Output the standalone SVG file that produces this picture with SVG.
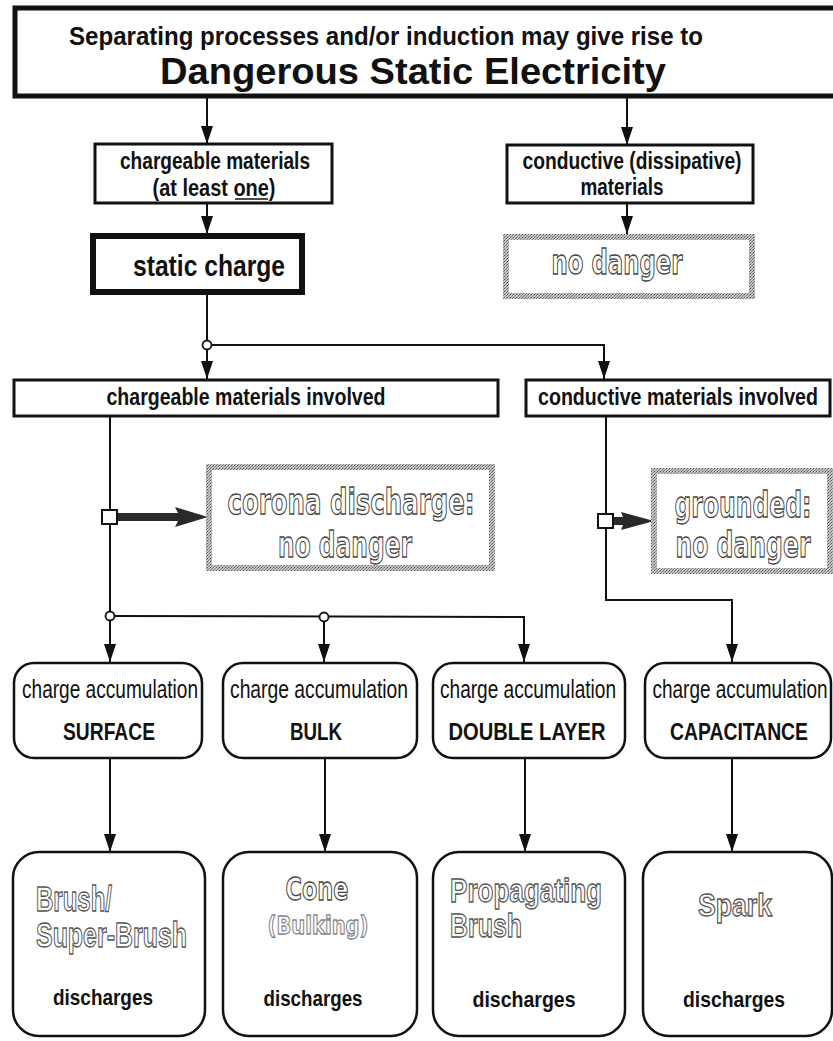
<svg xmlns="http://www.w3.org/2000/svg" width="833" height="1041" viewBox="0 0 833 1041">
<style>
.bx{fill:#fff;stroke:#111;stroke-width:3}
.rb{fill:#fff;stroke:#111;stroke-width:2.5}
.gb{fill:#fff;stroke:url(#hatch);stroke-width:6}
.ln{fill:none;stroke:#111;stroke-width:2}
.arr{marker-end:url(#ah)}
.b{font-family:"Liberation Sans",Arial,sans-serif;font-weight:bold;fill:#111;text-anchor:middle}
.r{font-family:"Liberation Sans",Arial,sans-serif;fill:#111;text-anchor:middle}
.o{font-family:"DejaVu Sans",sans-serif;font-weight:bold;fill:#fff;stroke:#444;stroke-width:1.3;text-anchor:middle}
.o2{font-family:"Liberation Sans",Arial,sans-serif;font-weight:bold;fill:#fff;stroke:#555;stroke-width:1.3;text-anchor:start}
.jc{fill:#fff;stroke:#111;stroke-width:1.8}
.sq{fill:#fff;stroke:#111;stroke-width:2}
.fat{fill:#2a2a2a}
</style>
<defs>
<pattern id="hatch" width="3" height="3" patternUnits="userSpaceOnUse">
<rect width="3" height="3" fill="#c4c4c4"/><rect width="1" height="1" fill="#555"/><rect x="2" y="1" width="1" height="1" fill="#7a7a7a"/><rect x="1" y="2" width="1" height="1" fill="#8a8a8a"/>
</pattern>
<marker id="ah" viewBox="0 0 18 12" refX="18" refY="6" markerWidth="18" markerHeight="12" markerUnits="userSpaceOnUse" orient="auto">
<path d="M0,0 L18,6 L0,12 z" fill="#111"/>
</marker>
</defs>

<g id="connectors">
<line class="ln arr" x1="207" y1="97" x2="207" y2="144"/>
<line class="ln arr" x1="627" y1="97" x2="627" y2="145"/>
<line class="ln arr" x1="207" y1="204" x2="207" y2="234"/>
<line class="ln arr" x1="627" y1="204" x2="627" y2="234"/>
<line class="ln arr" x1="207" y1="293" x2="207" y2="379"/>
<polyline class="ln arr" points="207,345 604,345 604,379"/>
<line class="ln" x1="110" y1="416" x2="110" y2="616"/>
<polyline class="ln arr" points="606,416 606,600 732,600 732,662"/>
<line class="ln arr" x1="110" y1="616" x2="110" y2="662"/>
<polyline class="ln arr" points="110,616 524,617 524,662"/>
<line class="ln arr" x1="324" y1="617" x2="324" y2="662"/>
<line class="ln arr" x1="110" y1="758" x2="110" y2="852"/>
<line class="ln arr" x1="325" y1="758" x2="325" y2="852"/>
<line class="ln arr" x1="525" y1="758" x2="525" y2="852"/>
<line class="ln arr" x1="732" y1="758" x2="732" y2="852"/>
<circle class="jc" cx="207" cy="345" r="4.5"/>
<circle class="jc" cx="110" cy="616" r="4.5"/>
<circle class="jc" cx="324" cy="617" r="4.5"/>
<polygon class="fat" points="117,513 178,513 175,507 208,517 175,527 178,521 117,521"/>
<rect class="sq" x="102" y="510" width="15" height="14"/>
<polygon class="fat" points="613,517 623,517 621,512 654,521 621,530 623,525 613,525"/>
<rect class="sq" x="598" y="514" width="15" height="14"/>
</g>

<g id="title">
<rect x="15" y="8" width="830" height="88" fill="#fff" stroke="#111" stroke-width="5"/>
<text class="b" x="386" y="45" font-size="26" textLength="634" lengthAdjust="spacingAndGlyphs">Separating processes and/or induction may give rise to</text>
<text class="b" x="413" y="84" font-size="36" textLength="506" lengthAdjust="spacingAndGlyphs">Dangerous Static Electricity</text>
</g>

<g id="chargeable">
<rect class="bx" x="95" y="144" width="237" height="59"/>
<text class="b" x="215" y="169" font-size="23" textLength="190" lengthAdjust="spacingAndGlyphs">chargeable materials</text>
<text class="b" x="214" y="196" font-size="23" textLength="123" lengthAdjust="spacingAndGlyphs">(at least  one)</text>
<line x1="235" y1="199" x2="268" y2="199" stroke="#111" stroke-width="1.6"/>
</g>

<g id="conductive">
<rect class="bx" x="507" y="145" width="246" height="58"/>
<text class="b" x="632" y="169" font-size="23" textLength="219" lengthAdjust="spacingAndGlyphs">conductive (dissipative)</text>
<text class="b" x="622" y="195" font-size="23" textLength="83" lengthAdjust="spacingAndGlyphs">materials</text>
</g>

<g id="static-charge">
<rect x="93" y="236" width="209" height="56" fill="#fff" stroke="#111" stroke-width="6"/>
<text class="b" x="209" y="276" font-size="30" textLength="152" lengthAdjust="spacingAndGlyphs">static charge</text>
</g>

<g id="no-danger-1">
<rect class="gb" x="506" y="237" width="246" height="59"/>
<text class="o" x="617" y="274" font-size="33" textLength="131" lengthAdjust="spacingAndGlyphs">no danger</text>
</g>

<g id="chargeable-involved">
<rect class="bx" x="14" y="380" width="484" height="36"/>
<text class="b" x="246" y="405" font-size="23" textLength="279" lengthAdjust="spacingAndGlyphs">chargeable materials  involved</text>
</g>

<g id="conductive-involved">
<rect class="bx" x="526" y="380" width="304" height="36"/>
<text class="b" x="678" y="405" font-size="23" textLength="280" lengthAdjust="spacingAndGlyphs">conductive  materials  involved</text>
</g>

<g id="corona">
<rect class="gb" x="209" y="467" width="283" height="101"/>
<text class="o" x="351" y="514" font-size="36" textLength="247" lengthAdjust="spacingAndGlyphs">corona discharge:</text>
<text class="o" x="345" y="557" font-size="36" textLength="134" lengthAdjust="spacingAndGlyphs">no danger</text>
</g>

<g id="grounded">
<rect class="gb" x="654" y="471" width="176" height="100"/>
<text class="o" x="743" y="517" font-size="36" textLength="137" lengthAdjust="spacingAndGlyphs">grounded:</text>
<text class="o" x="743" y="557" font-size="36" textLength="135" lengthAdjust="spacingAndGlyphs">no danger</text>
</g>

<g id="acc-surface">
<rect class="rb" x="14" y="663" width="188" height="95" rx="20"/>
<text class="r" x="110" y="698" font-size="25" textLength="176" lengthAdjust="spacingAndGlyphs">charge accumulation</text>
<text class="b" x="109" y="740" font-size="23" textLength="92" lengthAdjust="spacingAndGlyphs">SURFACE</text>
</g>
<g id="acc-bulk">
<rect class="rb" x="223" y="663" width="194" height="95" rx="20"/>
<text class="r" x="319" y="698" font-size="25" textLength="178" lengthAdjust="spacingAndGlyphs">charge accumulation</text>
<text class="b" x="316" y="740" font-size="23" textLength="52" lengthAdjust="spacingAndGlyphs">BULK</text>
</g>
<g id="acc-double">
<rect class="rb" x="433" y="663" width="192" height="95" rx="20"/>
<text class="r" x="528" y="698" font-size="25" textLength="176" lengthAdjust="spacingAndGlyphs">charge accumulation</text>
<text class="b" x="527" y="740" font-size="23" textLength="157" lengthAdjust="spacingAndGlyphs">DOUBLE  LAYER</text>
</g>
<g id="acc-capacitance">
<rect class="rb" x="645" y="663" width="186" height="95" rx="20"/>
<text class="r" x="740" y="698" font-size="25" textLength="175" lengthAdjust="spacingAndGlyphs">charge accumulation</text>
<text class="b" x="739" y="740" font-size="23" textLength="138" lengthAdjust="spacingAndGlyphs">CAPACITANCE</text>
</g>

<g id="dis-brush">
<rect class="rb" x="13" y="852" width="192" height="184" rx="26"/>
<text class="o2" x="36" y="911" font-size="35" textLength="76" lengthAdjust="spacingAndGlyphs">Brush/</text>
<text class="o2" x="36" y="947" font-size="35" textLength="151" lengthAdjust="spacingAndGlyphs">Super-Brush</text>
<text class="b" x="103" y="1005" font-size="22" textLength="100" lengthAdjust="spacingAndGlyphs">discharges</text>
</g>
<g id="dis-cone">
<rect class="rb" x="223" y="852" width="194" height="184" rx="26"/>
<text class="o" x="317" y="900" font-size="32" textLength="63" lengthAdjust="spacingAndGlyphs">Cone</text>
<text class="o" x="318" y="934" font-size="24" textLength="101" lengthAdjust="spacingAndGlyphs" style="stroke:#888">(Bulking)</text>
<text class="b" x="313" y="1006" font-size="22" textLength="99" lengthAdjust="spacingAndGlyphs">discharges</text>
</g>
<g id="dis-propagating">
<rect class="rb" x="433" y="852" width="192" height="184" rx="26"/>
<text class="o2" x="450" y="902" font-size="33" textLength="152" lengthAdjust="spacingAndGlyphs">Propagating</text>
<text class="o2" x="450" y="937" font-size="33" textLength="72" lengthAdjust="spacingAndGlyphs">Brush</text>
<text class="b" x="524" y="1007" font-size="22" textLength="103" lengthAdjust="spacingAndGlyphs">discharges</text>
</g>
<g id="dis-spark">
<rect class="rb" x="643" y="852" width="189" height="184" rx="26"/>
<text class="o2" x="698" y="916" font-size="31" textLength="74" lengthAdjust="spacingAndGlyphs">Spark</text>
<text class="b" x="734" y="1007" font-size="22" textLength="102" lengthAdjust="spacingAndGlyphs">discharges</text>
</g>
</svg>
